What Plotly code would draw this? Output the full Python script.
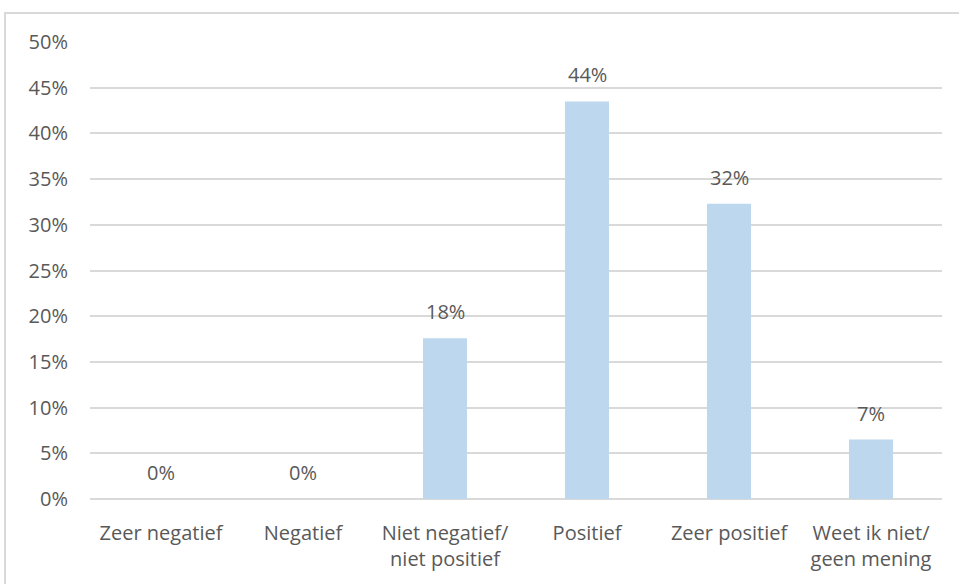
import plotly.graph_objects as go

categories = ["Zeer negatief", "Negatief", "Niet negatief/<br>niet positief", "Positief", "Zeer positief", "Weet ik niet/<br>geen mening"]
values = [0.0, 0.0, 17.6, 43.5, 32.3, 6.5]
labels = ["0%", "0%", "18%", "44%", "32%", "7%"]
tick_vals = [0, 5, 10, 15, 20, 25, 30, 35, 40, 45, 50]
tick_text = [f"{v}%" for v in tick_vals]

font_family = "Open Sans, Noto Sans, sans-serif"
text_color = "#595959"
fs = 20

fig = go.Figure(go.Bar(
    x=categories, y=values,
    marker=dict(color="#BDD7EE", line=dict(width=0)),
    width=0.31, hoverinfo="x+y",
))

for c, v, t in zip(categories, values, labels):
    fig.add_annotation(x=c, y=v, text=t, showarrow=False, yanchor="bottom",
                       yshift=11, font=dict(size=fs, color=text_color, family=font_family))

L, R, T, B = 90, 17, 42, 85
W, H = 959, 584
pw, ph = W - L - R, H - T - B

fig.update_layout(
    width=W, height=H,
    margin=dict(l=L, r=R, t=T, b=B, autoexpand=False),
    paper_bgcolor="white", plot_bgcolor="white",
    showlegend=False,
    font=dict(family=font_family, color=text_color, size=fs),
    xaxis=dict(showgrid=False, showline=False, zeroline=False, ticks="outside",
               ticklen=16, tickcolor="rgba(0,0,0,0)", automargin=False,
               tickfont=dict(size=fs, color=text_color)),
    yaxis=dict(range=[0, 50], tickvals=tick_vals, ticktext=tick_text,
               showgrid=True, gridcolor="#D9D9D9", gridwidth=2,
               zeroline=True, zerolinecolor="#D9D9D9", zerolinewidth=2,
               showline=False, ticks="outside", ticklen=17, tickcolor="rgba(0,0,0,0)",
               automargin=False,
               tickfont=dict(size=fs, color=text_color)),
    shapes=[dict(type="rect", xref="paper", yref="paper",
                 x0=(5 - L) / pw, x1=(W + 10 - L) / pw,
                 y0=(H - B - (H + 10)) / ph, y1=(H - B - 13) / ph,
                 line=dict(color="#D9D9D9", width=2), fillcolor="rgba(0,0,0,0)", layer="below")],
)

fig.write_html("out.html", config={"displayModeBar": False},
               post_script="document.body.style.margin='0';document.body.style.overflow='hidden';")
